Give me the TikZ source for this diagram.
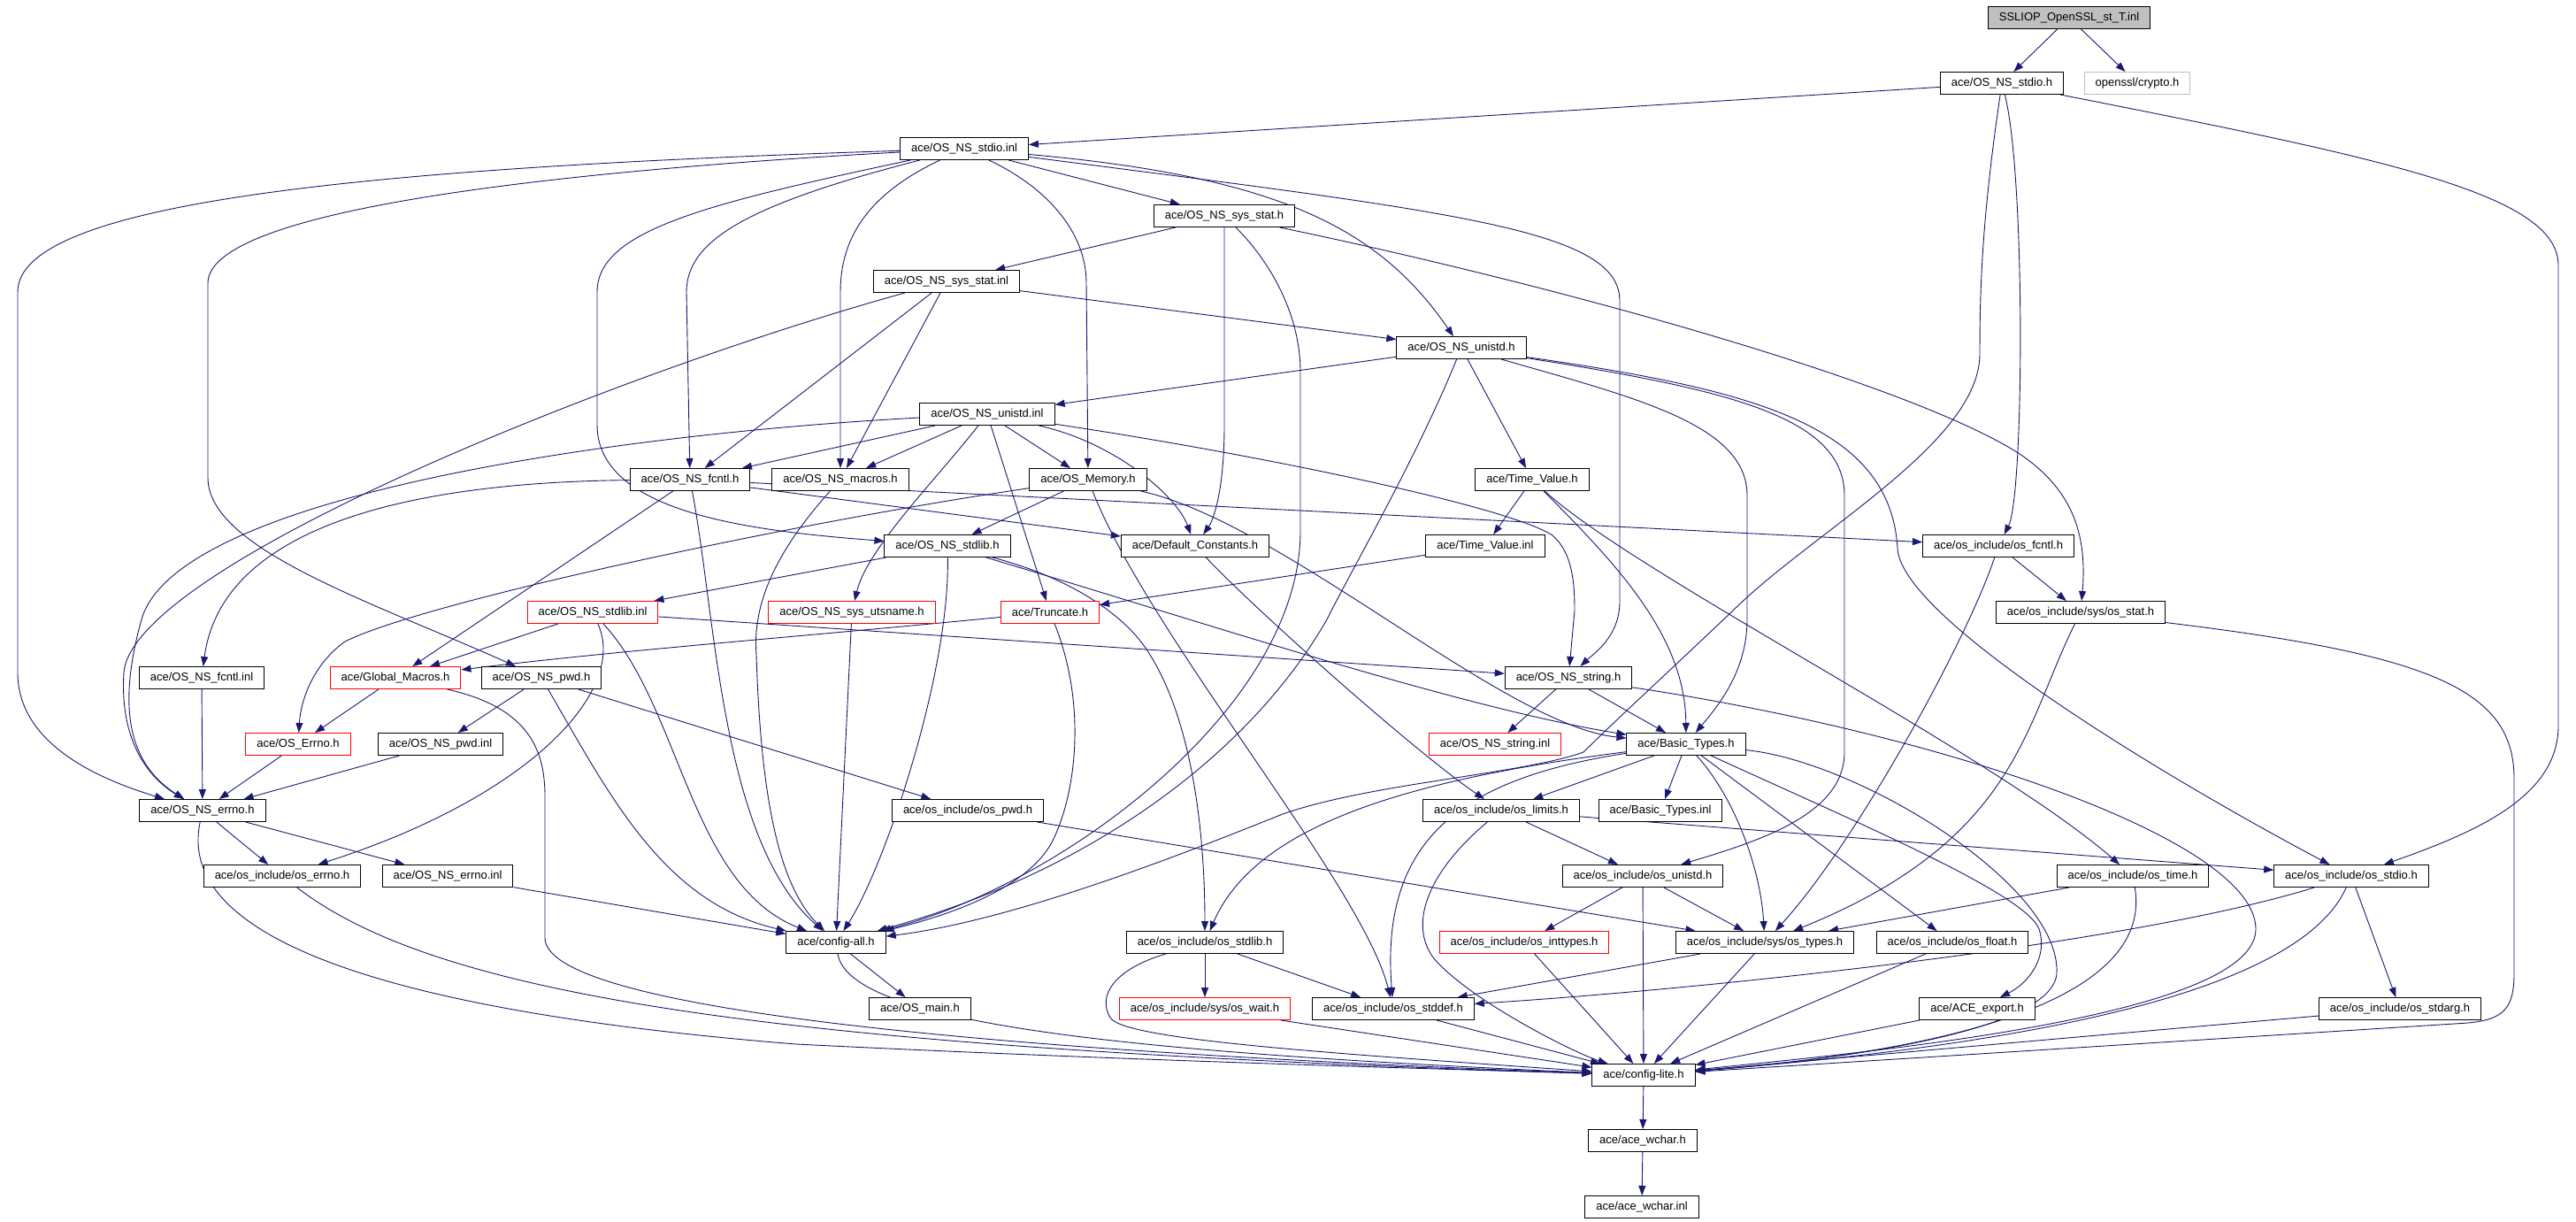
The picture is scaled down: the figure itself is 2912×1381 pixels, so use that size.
\documentclass[tikz,border=0pt]{standalone}
\usepackage{fontspec}
\setmainfont{Liberation Sans}
\usetikzlibrary{arrows.meta,backgrounds}
\definecolor{edgeblue}{HTML}{191970}
\definecolor{boxgray}{HTML}{BFBFBF}
\tikzset{
	hdr/.style={draw=black, line width=1pt, fill=white, font=\fontsize{13}{15}\selectfont, inner xsep=12.5pt, inner ysep=0pt, minimum height=25pt},
	trunc/.style={hdr, draw=red},
	extern/.style={hdr, draw=boxgray},
	root/.style={hdr, fill=boxgray},
	inc/.style={draw=edgeblue, line width=0.9pt, -{Triangle[length=11pt,width=8pt]}}
}
\begin{document}
\begin{tikzpicture}[x=1pt,y=-1pt]
	\useasboundingbox (0,0) rectangle (2912,1381);
	% files
	\node[root] (sslinl) at (2339,20) {SSLIOP\_OpenSSL\_st\_T.inl};
	\node[hdr] (stdioh) at (2263,94) {ace/OS\_NS\_stdio.h};
	\node[extern] (crypto) at (2416,94) {openssl/crypto.h};
	\node[hdr] (stdioinl) at (1090,168) {ace/OS\_NS\_stdio.inl};
	\node[hdr] (sysstath) at (1384,244) {ace/OS\_NS\_sys\_stat.h};
	\node[hdr] (sysstatinl) at (1070,318) {ace/OS\_NS\_sys\_stat.inl};
	\node[hdr] (unistdh) at (1652,393) {ace/OS\_NS\_unistd.h};
	\node[hdr] (unistdinl) at (1116,468) {ace/OS\_NS\_unistd.inl};
	\node[hdr] (nsfcntl) at (780,542) {ace/OS\_NS\_fcntl.h};
	\node[hdr] (nsmacros) at (950,542) {ace/OS\_NS\_macros.h};
	\node[hdr] (osmem) at (1230,542) {ace/OS\_Memory.h};
	\node[hdr] (timevalh) at (1732,542) {ace/Time\_Value.h};
	\node[hdr] (nsstdlib) at (1071,617) {ace/OS\_NS\_stdlib.h};
	\node[hdr] (defconst) at (1351,617) {ace/Default\_Constants.h};
	\node[hdr] (timevalinl) at (1679,617) {ace/Time\_Value.inl};
	\node[hdr] (osfcntl) at (2259,617) {ace/os\_include/os\_fcntl.h};
	\node[trunc] (nsstdlibinl) at (670,692) {ace/OS\_NS\_stdlib.inl};
	\node[trunc] (utsname) at (963,692) {ace/OS\_NS\_sys\_utsname.h};
	\node[trunc] (truncate) at (1187,692) {ace/Truncate.h};
	\node[hdr] (osstat) at (2352,692) {ace/os\_include/sys/os\_stat.h};
	\node[hdr] (nsfcntlinl) at (228,766) {ace/OS\_NS\_fcntl.inl};
	\node[trunc] (globmac) at (447,766) {ace/Global\_Macros.h};
	\node[hdr] (nspwd) at (612,766) {ace/OS\_NS\_pwd.h};
	\node[hdr] (nsstringh) at (1773,766) {ace/OS\_NS\_string.h};
	\node[trunc] (aceerrno) at (337,841) {ace/OS\_Errno.h};
	\node[hdr] (nspwdinl) at (498,841) {ace/OS\_NS\_pwd.inl};
	\node[trunc] (nsstringinl) at (1690,841) {ace/OS\_NS\_string.inl};
	\node[hdr] (basict) at (1906,841) {ace/Basic\_Types.h};
	\node[hdr] (nserrno) at (229,916) {ace/OS\_NS\_errno.h};
	\node[hdr] (ospwd) at (1094,916) {ace/os\_include/os\_pwd.h};
	\node[hdr] (oslimits) at (1697,916) {ace/os\_include/os\_limits.h};
	\node[hdr] (basictinl) at (1877,916) {ace/Basic\_Types.inl};
	\node[hdr] (oserrno) at (319,990) {ace/os\_include/os\_errno.h};
	\node[hdr] (nserrnoinl) at (506,990) {ace/OS\_NS\_errno.inl};
	\node[hdr] (osunistd) at (1857,990) {ace/os\_include/os\_unistd.h};
	\node[hdr] (ostime) at (2411,990) {ace/os\_include/os\_time.h};
	\node[hdr] (osstdio) at (2658,990) {ace/os\_include/os\_stdio.h};
	\node[hdr] (cfgall) at (945,1065) {ace/config-all.h};
	\node[hdr] (osstdlib) at (1362,1065) {ace/os\_include/os\_stdlib.h};
	\node[trunc] (osinttypes) at (1723,1065) {ace/os\_include/os\_inttypes.h};
	\node[hdr] (ostypes) at (1995,1065) {ace/os\_include/sys/os\_types.h};
	\node[hdr] (osfloat) at (2207,1065) {ace/os\_include/os\_float.h};
	\node[hdr] (osmain) at (1040,1140) {ace/OS\_main.h};
	\node[trunc] (oswait) at (1362,1140) {ace/os\_include/sys/os\_wait.h};
	\node[hdr] (osstddef) at (1575,1140) {ace/os\_include/os\_stddef.h};
	\node[hdr] (aceexport) at (2235,1140) {ace/ACE\_export.h};
	\node[hdr] (osstdarg) at (2713,1140) {ace/os\_include/os\_stdarg.h};
	\node[hdr] (cfglite) at (1858,1215) {ace/config-lite.h};
	\node[hdr] (wcharh) at (1857,1289) {ace/ace\_wchar.h};
	\node[hdr] (wcharinl) at (1856,1364) {ace/ace\_wchar.inl};
	% includes
	\begin{pgfonlayer}{background}
	\draw[inc] (sslinl) -- (stdioh);
	\draw[inc] (sslinl) -- (crypto);
	\draw[inc] (stdioh) -- (stdioinl);
	\draw[inc] (stdioh) .. controls (2290,200) and (2288,560) .. (osfcntl);
	\draw[inc] (stdioh) .. controls (2240,250) and (2238,330) .. (2238,400) .. controls (2238,500) and (2050,600) .. (1959,690) .. controls (1880,765) and (1820,820) .. (1790,850) .. controls (1720,875) and (1550,885) .. (1450,920) .. controls (1350,960) and (1150,1040) .. (cfgall);
	\draw[inc] (stdioh) .. controls (2700,180) and (2892,220) .. (2892,300) -- (2892,820) .. controls (2892,900) and (2800,940) .. (osstdio);
	\draw[inc] (stdioinl) .. controls (400,190) and (20,230) .. (20,330) -- (20,760) .. controls (20,840) and (110,880) .. (nserrno);
	\draw[inc] (stdioinl) .. controls (600,195) and (235,240) .. (235,320) -- (235,540) .. controls (235,620) and (420,680) .. (nspwd);
	\draw[inc] (stdioinl) .. controls (800,230) and (675,260) .. (675,330) -- (675,480) .. controls (675,580) and (850,600) .. (nsstdlib);
	\draw[inc] (stdioinl) .. controls (850,230) and (776,270) .. (776,330) -- (nsfcntl);
	\draw[inc] (stdioinl) .. controls (980,220) and (950,270) .. (950,330) -- (nsmacros);
	\draw[inc] (stdioinl) .. controls (1180,210) and (1228,260) .. (1228,320) -- (osmem);
	\draw[inc] (stdioinl) -- (sysstath);
	\draw[inc] (stdioinl) .. controls (1450,200) and (1560,260) .. (unistdh);
	\draw[inc] (stdioinl) .. controls (1650,240) and (1831,260) .. (1831,340) -- (1831,680) .. controls (1831,720) and (1800,740) .. (nsstringh);
	\draw[inc] (sysstath) -- (sysstatinl);
	\draw[inc] (sysstath) -- (1384,480) .. controls (1384,560) and (1370,590) .. (defconst);
	\draw[inc] (sysstath) .. controls (1440,300) and (1470,360) .. (1470,420) -- (1470,600) .. controls (1470,800) and (1200,1000) .. (cfgall);
	\draw[inc] (sysstath) .. controls (1750,320) and (2150,430) .. (2280,511) .. controls (2340,550) and (2360,600) .. (osstat);
	\draw[inc] (sysstatinl) -- (unistdh);
	\draw[inc] (sysstatinl) -- (nsfcntl);
	\draw[inc] (sysstatinl) -- (nsmacros);
	\draw[inc] (sysstatinl) .. controls (700,420) and (150,640) .. (140,760) .. controls (135,840) and (170,880) .. (nserrno);
	\draw[inc] (unistdh) -- (unistdinl);
	\draw[inc] (unistdh) -- (timevalh);
	\draw[inc] (unistdh) .. controls (1600,520) and (1530,640) .. (1500,700) .. controls (1420,840) and (1250,980) .. (cfgall);
	\draw[inc] (unistdh) .. controls (1850,450) and (1975,480) .. (1975,560) -- (1975,700) .. controls (1975,760) and (1940,800) .. (basict);
	\draw[inc] (unistdh) .. controls (1950,440) and (2085,470) .. (2085,560) -- (2085,850) .. controls (2085,920) and (1990,950) .. (osunistd);
	\draw[inc] (unistdh) .. controls (1980,440) and (2137,480) .. (2145,620) .. controls (2150,700) and (2450,880) .. (osstdio);
	\draw[inc] (timevalh) -- (timevalinl);
	\draw[inc] (timevalh) .. controls (1830,640) and (1905,720) .. (basict);
	\draw[inc] (timevalh) .. controls (1850,650) and (2250,850) .. (ostime);
	\draw[inc] (unistdinl) .. controls (700,490) and (200,560) .. (160,700) .. controls (135,790) and (140,860) .. (nserrno);
	\draw[inc] (unistdinl) -- (nsfcntl);
	\draw[inc] (unistdinl) -- (nsmacros);
	\draw[inc] (unistdinl) .. controls (1060,540) and (980,620) .. (utsname);
	\draw[inc] (unistdinl) -- (truncate);
	\draw[inc] (unistdinl) -- (osmem);
	\draw[inc] (unistdinl) .. controls (1260,500) and (1330,560) .. (defconst);
	\draw[inc] (unistdinl) .. controls (1400,510) and (1700,570) .. (1755,605) .. controls (1778,625) and (1780,660) .. (1780,690) -- (nsstringh);
	\draw[inc] (nsfcntl) .. controls (450,545) and (250,600) .. (nsfcntlinl);
	\draw[inc] (nsfcntl) -- (globmac);
	\draw[inc] (nsfcntl) .. controls (810,700) and (815,950) .. (cfgall);
	\draw[inc] (nsfcntl) -- (defconst);
	\draw[inc] (nsfcntl) -- (osfcntl);
	\draw[inc] (nsmacros) .. controls (880,620) and (850,680) .. (855,740) .. controls (860,900) and (880,1000) .. (cfgall);
	\draw[inc] (osmem) .. controls (900,590) and (480,680) .. (390,725) .. controls (355,750) and (340,790) .. (aceerrno);
	\draw[inc] (osmem) -- (nsstdlib);
	\draw[inc] (osmem) .. controls (1300,720) and (1540,1000) .. (osstddef);
	\draw[inc] (osmem) .. controls (1450,590) and (1700,820) .. (basict);
	\draw[inc] (timevalinl) -- (truncate);
	\draw[inc] (nsstdlib) -- (nsstdlibinl);
	\draw[inc] (nsstdlib) .. controls (1074,760) and (1000,980) .. (cfgall);
	\draw[inc] (nsstdlib) .. controls (1200,650) and (1270,690) .. (1300,740) .. controls (1350,820) and (1362,950) .. (osstdlib);
	\draw[inc] (nsstdlib) .. controls (1350,700) and (1650,800) .. (basict);
	\draw[inc] (defconst) .. controls (1420,690) and (1600,850) .. (oslimits);
	\draw[inc] (osfcntl) -- (osstat);
	\draw[inc] (osfcntl) .. controls (2225,720) and (2100,950) .. (ostypes);
	\draw[inc] (osstat) .. controls (2288,820) and (2280,950) .. (ostypes);
	\draw[inc] (osstat) .. controls (2750,740) and (2842,780) .. (2842,880) -- (2842,1100) .. controls (2842,1140) and (2830,1152) .. (2790,1156) -- (cfglite);
	\draw[inc] (nsstdlibinl) -- (globmac);
	\draw[inc] (nsstdlibinl) -- (nsstringh);
	\draw[inc] (nsstdlibinl) .. controls (710,780) and (600,900) .. (oserrno);
	\draw[inc] (nsstdlibinl) .. controls (770,800) and (780,1000) .. (cfgall);
	\draw[inc] (utsname) -- (cfgall);
	\draw[inc] (truncate) .. controls (900,720) and (700,735) .. (globmac);
	\draw[inc] (truncate) .. controls (1230,800) and (1215,900) .. (1190,950) .. controls (1160,1010) and (1050,1040) .. (cfgall);
	\draw[inc] (nsfcntlinl) -- (nserrno);
	\draw[inc] (globmac) -- (aceerrno);
	\draw[inc] (globmac) .. controls (600,800) and (616,850) .. (616,900) -- (616,1060) .. controls (616,1120) and (900,1180) .. (cfglite);
	\draw[inc] (nspwd) -- (nspwdinl);
	\draw[inc] (nspwd) -- (ospwd);
	\draw[inc] (nspwd) .. controls (690,900) and (750,1020) .. (cfgall);
	\draw[inc] (aceerrno) -- (nserrno);
	\draw[inc] (nspwdinl) -- (nserrno);
	\draw[inc] (nsstringh) -- (nsstringinl);
	\draw[inc] (nsstringh) -- (basict);
	\draw[inc] (nsstringh) .. controls (2200,830) and (2550,950) .. (2550,1050) .. controls (2550,1150) and (2100,1190) .. (cfglite);
	\draw[inc] (basict) -- (oslimits);
	\draw[inc] (basict) -- (basictinl);
	\draw[inc] (basict) .. controls (1960,900) and (1990,980) .. (ostypes);
	\draw[inc] (basict) -- (osfloat);
	\draw[inc] (basict) .. controls (2100,930) and (2290,1010) .. (2305,1050) .. controls (2315,1080) and (2295,1110) .. (aceexport);
	\draw[inc] (basict) .. controls (2100,860) and (2330,1000) .. (2325,1100) .. controls (2320,1170) and (2050,1200) .. (cfglite);
	\draw[inc] (basict) .. controls (1600,880) and (1420,930) .. (osstdlib);
	\draw[inc] (basict) .. controls (1650,880) and (1560,950) .. (osstddef);
	\draw[inc] (nserrno) -- (oserrno);
	\draw[inc] (nserrno) -- (nserrnoinl);
	\draw[inc] (nserrno) .. controls (200,1050) and (400,1140) .. (900,1180) .. controls (1300,1200) and (1700,1210) .. (cfglite);
	\draw[inc] (ospwd) -- (ostypes);
	\draw[inc] (oslimits) -- (osunistd);
	\draw[inc] (oslimits) .. controls (1620,980) and (1590,1040) .. (1620,1082) .. controls (1660,1130) and (1780,1190) .. (cfglite);
	\draw[inc] (oslimits) -- (osstdio);
	\draw[inc] (oserrno) .. controls (500,1130) and (900,1185) .. (cfglite);
	\draw[inc] (nserrnoinl) -- (cfgall);
	\draw[inc] (osunistd) -- (osinttypes);
	\draw[inc] (osunistd) -- (cfglite);
	\draw[inc] (osunistd) -- (ostypes);
	\draw[inc] (ostime) -- (ostypes);
	\draw[inc] (ostime) .. controls (2430,1100) and (2300,1180) .. (cfglite);
	\draw[inc] (osstdio) .. controls (2400,1070) and (1900,1120) .. (osstddef);
	\draw[inc] (osstdio) -- (osstdarg);
	\draw[inc] (osstdio) .. controls (2600,1120) and (2300,1180) .. (cfglite);
	\draw[inc] (cfgall) -- (osmain);
	\draw[inc] (cfgall) .. controls (960,1160) and (1300,1190) .. (cfglite);
	\draw[inc] (osstdlib) -- (oswait);
	\draw[inc] (osstdlib) -- (osstddef);
	\draw[inc] (osstdlib) .. controls (1260,1095) and (1240,1125) .. (1255,1150) .. controls (1270,1175) and (1500,1190) .. (cfglite);
	\draw[inc] (osinttypes) -- (cfglite);
	\draw[inc] (ostypes) -- (osstddef);
	\draw[inc] (ostypes) -- (cfglite);
	\draw[inc] (osfloat) -- (cfglite);
	\draw[inc] (oswait) -- (cfglite);
	\draw[inc] (osstddef) -- (cfglite);
	\draw[inc] (aceexport) -- (cfglite);
	\draw[inc] (osstdarg) -- (cfglite);
	\draw[inc] (cfglite) -- (wcharh);
	\draw[inc] (wcharh) -- (wcharinl);
	\end{pgfonlayer}
\end{tikzpicture}
\end{document}
